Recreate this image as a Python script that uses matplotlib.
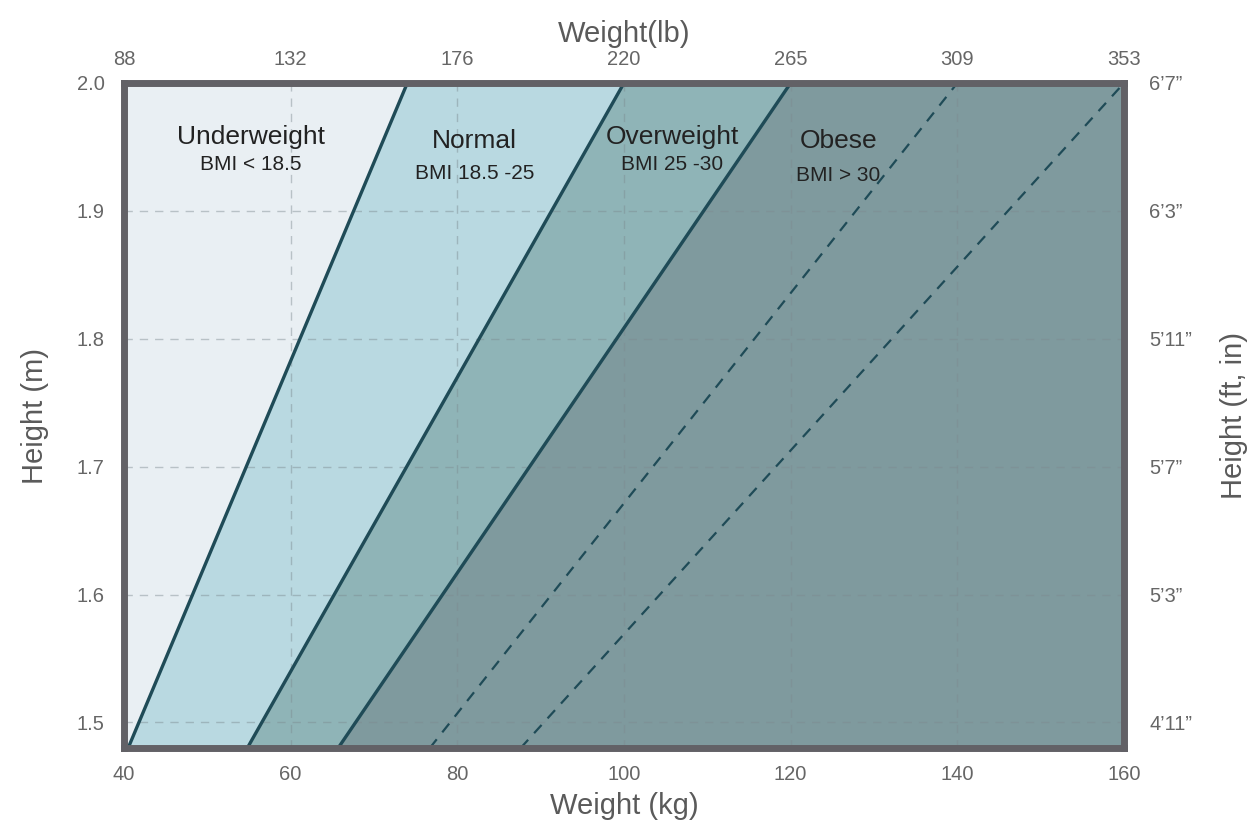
import numpy as np
import matplotlib.pyplot as plt

plt.rcParams['font.family'] = ['Liberation Sans', 'DejaVu Sans']

h_min, h_max = 1.48, 2.0
w_min, w_max = 40, 160

# BMI border lines: weight (kg) where each line meets the bottom / top edge
solid_bmi = [18.5, 25, 30]
solid_w_bottom = [40.5, 54.8, 65.7]
solid_w_top = [74.0, 100.0, 120.0]
dashed_bmi = [35, 40]
dashed_w_bottom = [76.7, 87.6]
dashed_w_top = [140.0, 160.0]

# region labels
cat_names = ['Underweight', 'Normal', 'Overweight', 'Obese']
cat_ranges = ['BMI < 18.5', 'BMI 18.5 -25', 'BMI 25 -30', 'BMI > 30']
cat_x = [55.2, 82.1, 105.8, 125.7]
name_y = [1.958, 1.955, 1.958, 1.955]
range_y = [1.936, 1.929, 1.936, 1.928]
cat_colors = ['#e9eff3', '#b9d9e1', '#8fb4b7', '#7f9a9e']

# axis ticks
kg_ticks = [40, 60, 80, 100, 120, 140, 160]
lb_labels = ['88', '132', '176', '220', '265', '309', '353']
m_ticks = [1.5, 1.6, 1.7, 1.8, 1.9, 2.0]
ftin_labels = ['4\u201911\u201d', '5\u20193\u201d', '5\u20197\u201d',
               '5\u201911\u201d', '6\u20193\u201d', '6\u20197\u201d']

line_col = '#1f4b57'
frame_col = '#626166'
text_col = '#666666'

fig = plt.figure(figsize=(12.59, 8.35), dpi=100)
ax = fig.add_axes([124/1259, 87/835, 1000/1259, 665/835])

hy = [h_min, h_max]
edges = [[w_min, w_min]] + [[b, t] for b, t in zip(solid_w_bottom, solid_w_top)] + [[w_max, w_max]]
for i, col in enumerate(cat_colors):
    ax.fill_betweenx(hy, edges[i], edges[i+1], color=col, lw=0, zorder=1)

for b, t in zip(solid_w_bottom, solid_w_top):
    ax.plot([b, t], hy, color=line_col, lw=2.4, zorder=3)
for b, t in zip(dashed_w_bottom, dashed_w_top):
    ax.plot([b, t], hy, color=line_col, lw=1.6, ls=(0, (5, 4)), zorder=3)

ax.set_xlim(w_min, w_max)
ax.set_ylim(h_min, h_max)
ax.set_xticks(kg_ticks)
ax.set_yticks(m_ticks)
ax.grid(True, color='#7d8a90', alpha=0.45, lw=1, ls=(0, (6, 5)), zorder=2)
ax.set_axisbelow(False)

for s in ax.spines.values():
    s.set_color(frame_col)
    s.set_linewidth(5)
    s.set_zorder(5)

ax.tick_params(axis='both', length=0, labelsize=14.5, labelcolor=text_col)
ax.tick_params(axis='x', pad=12)
ax.tick_params(axis='y', pad=14)
ax.set_yticklabels([f'{v:.1f}' for v in m_ticks])

ax.set_xlabel('Weight (kg)', fontsize=21, color='#5a5a5a', labelpad=6)
ax.set_ylabel('Height (m)', fontsize=21, color='#5a5a5a', labelpad=20)

# top axis in pounds
top = ax.secondary_xaxis('top')
top.set_xticks(kg_ticks, labels=lb_labels)
top.tick_params(length=0, labelsize=14.5, labelcolor=text_col, pad=10)
top.spines['top'].set_visible(False)
top.set_xlabel('Weight(lb)', fontsize=21, color='#5a5a5a', labelpad=6)

# right axis in feet/inches
right = ax.secondary_yaxis('right')
right.set_yticks(m_ticks, labels=ftin_labels)
right.tick_params(length=0, labelsize=14.5, labelcolor=text_col, pad=18)
right.spines['right'].set_visible(False)
right.set_ylabel('Height (ft, in)', fontsize=21, color='#5a5a5a', labelpad=20)

for x, name, rng, ny, ry in zip(cat_x, cat_names, cat_ranges, name_y, range_y):
    ax.text(x, ny, name, ha='center', va='center', fontsize=19, color='#222222', zorder=4)
    ax.text(x, ry, rng, ha='center', va='center', fontsize=15, color='#222222', zorder=4)

fig.savefig('out.png', dpi=100)
